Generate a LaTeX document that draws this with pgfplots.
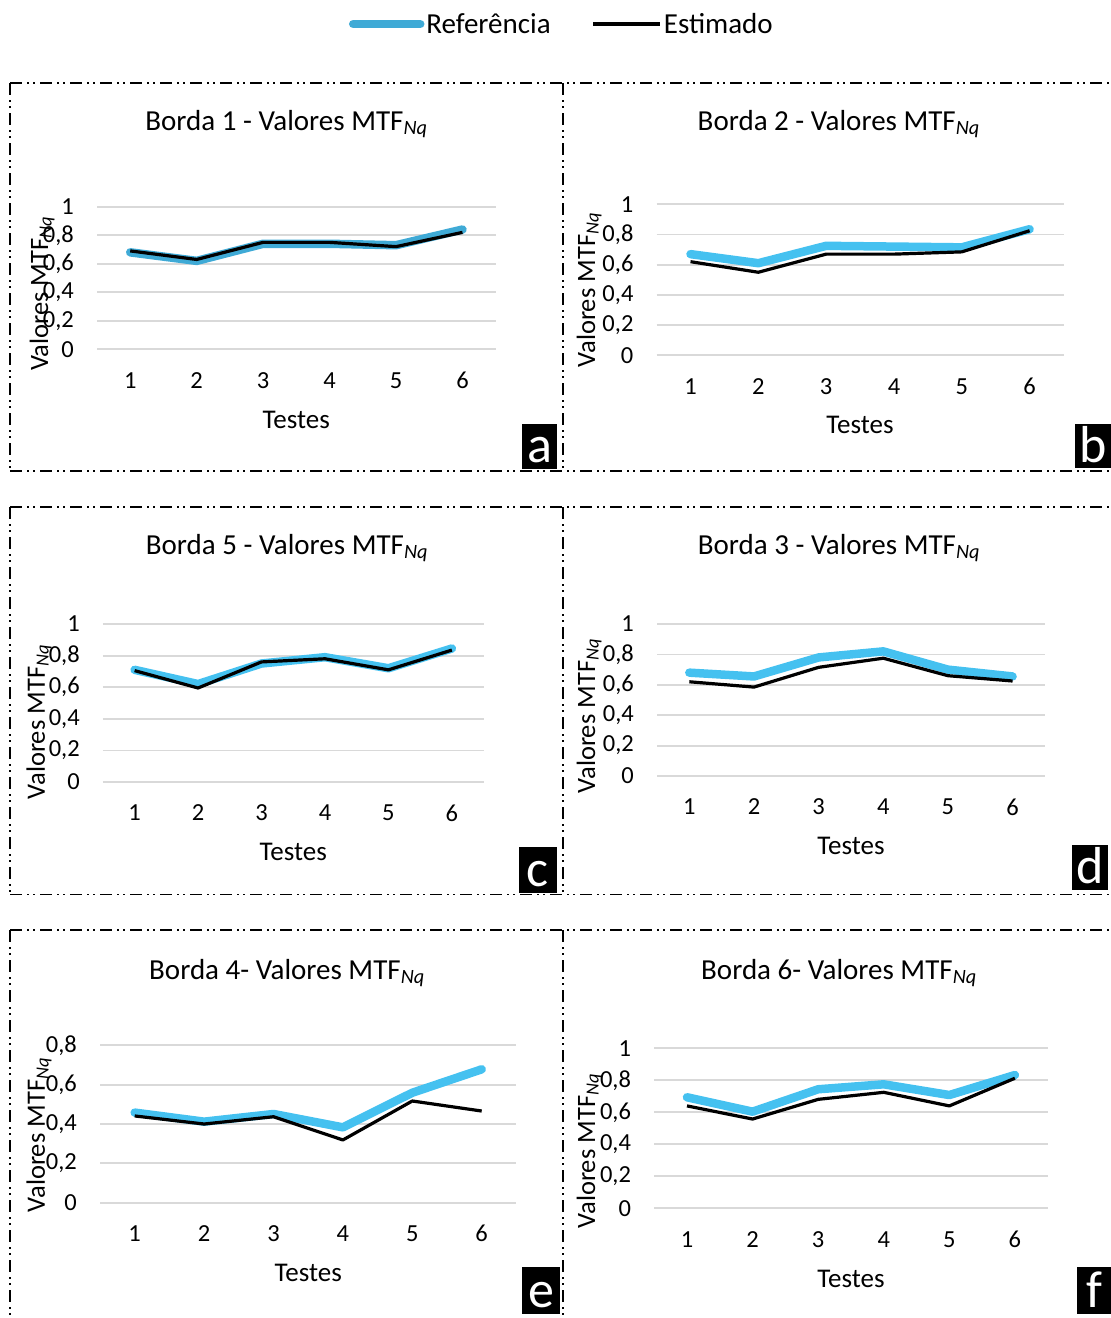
\documentclass[border=0pt]{standalone}
\usepackage{fontspec}
\setmainfont{Carlito}
\usepackage{pgfplots}
\pgfplotsset{compat=1.18}
\definecolor{refc}{HTML}{45C1F0}
\definecolor{refa}{HTML}{3FAAD6}
\definecolor{gridc}{HTML}{D9D9D9}
\pgfplotsset{
  panel/.style={scale only axis, anchor=south west,
    xmin=0.5, xmax=6.5, ymin=0, ymax=1,
    xtick={1,2,3,4,5,6}, xticklabels={1,2,3,4,5,6},
    ytick={0,0.2,0.4,0.6,0.8,1}, yticklabels={0,{0,2},{0,4},{0,6},{0,8},1},
    ymajorgrids, grid style={draw=gridc, line width=1.8pt},
    axis line style={draw=none}, major tick length=0pt, tick style={draw=none},
    clip=false,
    /pgf/number format/assume math mode=true,
    ticklabel style={font=\fontsize{24.5}{28}\selectfont},
    xticklabel style={anchor=center, inner sep=0pt, yshift=-31pt},
    yticklabel style={anchor=east, inner sep=0pt, xshift=-23pt}},
  ref/.style={color=refc, line width=8.5pt, line cap=round, line join=round, mark=none},
  est/.style={color=black, line width=3.2pt, line join=round, mark=none},
}
\tikzset{boxline/.style={line width=1.8pt, dash pattern=on 12pt off 5pt on 2pt off 4pt on 2pt off 5pt},
  ttl/.style={anchor=base, font=\fontsize{29}{34}\selectfont},
  ylab/.style={rotate=90, anchor=base, font=\fontsize{26.5}{30}\selectfont},
  xlab/.style={anchor=base, font=\fontsize{27}{31}\selectfont},
  letter/.style={anchor=base, text=white, inner sep=0pt, font=\fontsize{52}{60}\selectfont}}
\begin{document}
\begin{tikzpicture}
\useasboundingbox (0pt,0pt) rectangle (1111pt,-1318pt);
% boxes
\foreach \t/\b in {83/471,507/894.5,930/1330}{
  \draw[boxline] (10pt,-\t pt) -- (1111pt,-\t pt);
  \draw[boxline] (10pt,-\b pt) -- (1111pt,-\b pt);
  \draw[boxline] (10pt,-\t pt) -- (10pt,-\b pt);
  \draw[boxline] (563pt,-\t pt) -- (563pt,-\b pt);
}
% Panel a
\begin{axis}[panel, at={(97pt,-349.3pt)}, width=398.7pt, height=142.6pt,
  legend columns=2,
  legend style={draw=none, fill=none, at={(1.166,2.281)}, anchor=center,
    font=\fontsize{29}{34}\selectfont, nodes={inner xsep=2pt, inner ysep=2pt},
    /tikz/every even column/.append style={column sep=39pt}},
  legend image code/.code={\draw[#1] (0pt,0pt) -- (67pt,0pt);}]
\addplot[ref, color=refa] coordinates {(1,0.68) (2,0.62) (3,0.74) (4,0.74) (5,0.73) (6,0.84)};
\addlegendentry{Referência}
\addplot[est] coordinates {(1,0.69) (2,0.63) (3,0.75) (4,0.75) (5,0.72) (6,0.82)};
\addlegendentry{Estimado}
\end{axis}
% Panel b
\begin{axis}[panel, at={(656.6pt,-355.3pt)}, width=406.9pt, height=151pt]
\addplot[ref] coordinates {(1,0.67) (2,0.61) (3,0.725) (4,0.72) (5,0.715) (6,0.835)};
\addplot[est] coordinates {(1,0.62) (2,0.55) (3,0.67) (4,0.67) (5,0.685) (6,0.825)};
\end{axis}
% Panel c
\begin{axis}[panel, at={(102.9pt,-782pt)}, width=380.7pt, height=158pt]
\addplot[ref] coordinates {(1,0.71) (2,0.62) (3,0.75) (4,0.79) (5,0.72) (6,0.845)};
\addplot[est] coordinates {(1,0.705) (2,0.595) (3,0.76) (4,0.78) (5,0.71) (6,0.835)};
\end{axis}
% Panel d
\begin{axis}[panel, at={(657pt,-776pt)}, width=387.9pt, height=152pt]
\addplot[ref] coordinates {(1,0.68) (2,0.655) (3,0.78) (4,0.82) (5,0.70) (6,0.655)};
\addplot[est] coordinates {(1,0.62) (2,0.585) (3,0.715) (4,0.775) (5,0.66) (6,0.625)};
\end{axis}
% Panel e
\begin{axis}[panel, at={(100pt,-1202.7pt)}, width=416.4pt, height=157.4pt,
  ymax=0.8, ytick={0,0.2,0.4,0.6,0.8}, yticklabels={0,{0,2},{0,4},{0,6},{0,8}}]
\addplot[ref] coordinates {(1,0.458) (2,0.412) (3,0.451) (4,0.383) (5,0.559) (6,0.678)};
\addplot[est] coordinates {(1,0.441) (2,0.40) (3,0.437) (4,0.319) (5,0.517) (6,0.466)};
\end{axis}
% Panel f
\begin{axis}[panel, at={(654.2pt,-1208.3pt)}, width=393.5pt, height=160pt]
\addplot[ref] coordinates {(1,0.694) (2,0.604) (3,0.744) (4,0.775) (5,0.708) (6,0.833)};
\addplot[est] coordinates {(1,0.64) (2,0.558) (3,0.681) (4,0.725) (5,0.64) (6,0.813)};
\end{axis}
% titles
\node[ttl] at (286.5pt,-130pt) {Borda 1 - Valores MTF\textsubscript{\textit{Nq}}};
\node[ttl] at (838.8pt,-130pt) {Borda 2 - Valores MTF\textsubscript{\textit{Nq}}};
\node[ttl] at (287pt,-554pt) {Borda 5 - Valores MTF\textsubscript{\textit{Nq}}};
\node[ttl] at (839pt,-554pt) {Borda 3 - Valores MTF\textsubscript{\textit{Nq}}};
\node[ttl] at (287pt,-979pt) {Borda 4- Valores MTF\textsubscript{\textit{Nq}}};
\node[ttl] at (839pt,-979pt) {Borda 6- Valores MTF\textsubscript{\textit{Nq}}};
% y labels
\node[ylab] at (48pt,-293.5pt) {Valores MTF\textsubscript{\textit{Nq}}};
\node[ylab] at (595pt,-290pt) {Valores MTF\textsubscript{\textit{Nq}}};
\node[ylab] at (45pt,-722pt) {Valores MTF\textsubscript{\textit{Nq}}};
\node[ylab] at (595pt,-716pt) {Valores MTF\textsubscript{\textit{Nq}}};
\node[ylab] at (45pt,-1135pt) {Valores MTF\textsubscript{\textit{Nq}}};
\node[ylab] at (595pt,-1151pt) {Valores MTF\textsubscript{\textit{Nq}}};
% x labels
\node[xlab] at (296.3pt,-428pt) {Testes};
\node[xlab] at (860pt,-433pt) {Testes};
\node[xlab] at (293.2pt,-860pt) {Testes};
\node[xlab] at (851pt,-854pt) {Testes};
\node[xlab] at (308.2pt,-1281pt) {Testes};
\node[xlab] at (851pt,-1287pt) {Testes};
% letter boxes
\fill[black] (522pt,-424pt) rectangle (557pt,-469pt);
\node[letter] at (539.5pt,-462pt) {a};
\fill[black] (1075pt,-424pt) rectangle (1111pt,-468pt);
\node[letter] at (1093pt,-462pt) {b};
\fill[black] (518.6pt,-847pt) rectangle (557pt,-893pt);
\node[letter] at (537.8pt,-886pt) {c};
\fill[black] (1072pt,-845pt) rectangle (1108pt,-890pt);
\node[letter] at (1090pt,-883pt) {d};
\fill[black] (522pt,-1267pt) rectangle (560pt,-1314pt);
\node[letter] at (541pt,-1307pt) {e};
\fill[black] (1077pt,-1267pt) rectangle (1111pt,-1314pt);
\node[letter] at (1094pt,-1307pt) {f};
\end{tikzpicture}
\end{document}
